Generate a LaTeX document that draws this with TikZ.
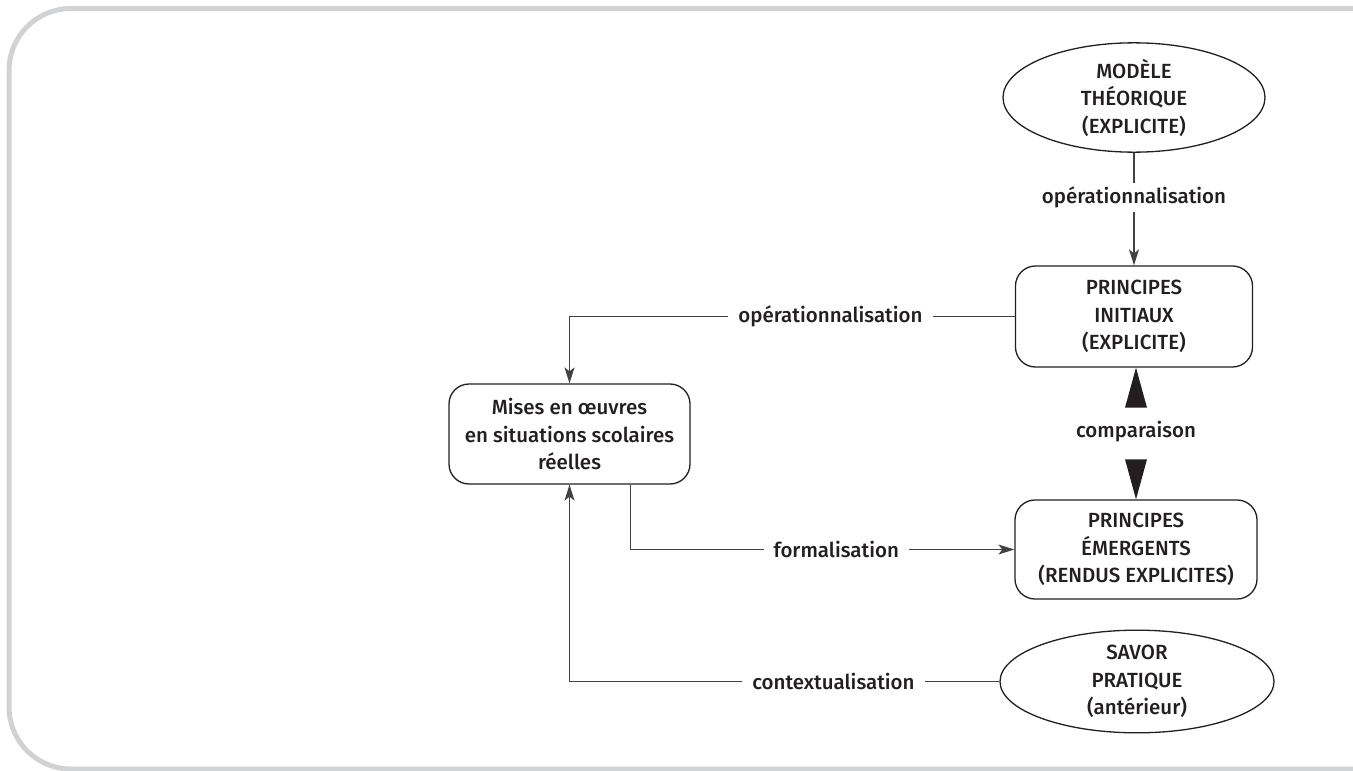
\documentclass[tikz,border=0pt]{standalone}
\usepackage{fontspec}
\setmainfont{Fira Sans}[UprightFont={* Medium}]
\usetikzlibrary{shapes.geometric,arrows.meta}
\definecolor{ink}{HTML}{231F20}
\definecolor{frame}{HTML}{D1D2D4}
\begin{document}
\begin{tikzpicture}[x=1pt,y=-1pt,
  every node/.style={text=ink,font=\fontsize{20.5}{27.5}\selectfont},
  ell/.style={draw=ink,line width=1.3pt,ellipse,inner sep=0pt,align=center},
  rbox/.style={draw=ink,line width=1.3pt,rounded corners=20pt,inner sep=0pt,align=center,minimum width=237pt,minimum height=101pt},
  conn/.style={draw=ink!85,line width=1.3pt},
  arr/.style={conn,-{Stealth[length=16pt,width=10pt,inset=4pt]}},
  lbl/.style={fill=white,inner xsep=10pt,inner ysep=3pt},
  bigtip/.style={fill=ink}]
\useasboundingbox (0,0) rectangle (1353,771);
\begin{scope}
\clip (0,0) rectangle (1353,771);
\draw[frame,line width=5pt,rounded corners=62pt] (1400,8.5) -- (9,8.5) -- (9,769) -- (1400,769);
\end{scope}
\node[ell,minimum width=262pt,minimum height=101pt] (m) at (1134,97.5) {MODÈLE\\THÉORIQUE\\(EXPLICITE)};
\node[rbox] (p1) at (1134,316.5) {PRINCIPES\\INITIAUX\\(EXPLICITE)};
\node[rbox,minimum width=242pt,minimum height=99pt] (p2) at (1136,549.5) {PRINCIPES\\ÉMERGENTS\\(RENDUS EXPLICITES)};
\node[ell,minimum width=274pt,minimum height=97pt] (s) at (1137,681.5) {SAVOR\\PRATIQUE\\(antérieur)};
\node[rbox,minimum width=241pt,minimum height=100pt] (w) at (569.5,434) {Mises en œuvres\\en situations scolaires\\réelles};
\draw[arr] (m.south) -- (p1.north) node[pos=0.4,lbl,inner ysep=4pt] {opérationnalisation};
\draw[arr] (p1.west) -| (w.north) node[pos=0.207,lbl] {opérationnalisation};
\draw[arr] ([xshift=61pt]w.south) |- (p2.west) node[pos=0.768,lbl] {formalisation};
\draw[arr] (s.west) -| (w.south) node[pos=0.193,lbl] {contextualisation};
\node (c) at (1136,432) {comparaison};
\fill[bigtip] (p1.south -| c) -- ++(-11,40) -- ++(22,0) -- cycle;
\fill[bigtip] (p2.north -| c) -- ++(-11,-40) -- ++(22,0) -- cycle;
\end{tikzpicture}
\end{document}
